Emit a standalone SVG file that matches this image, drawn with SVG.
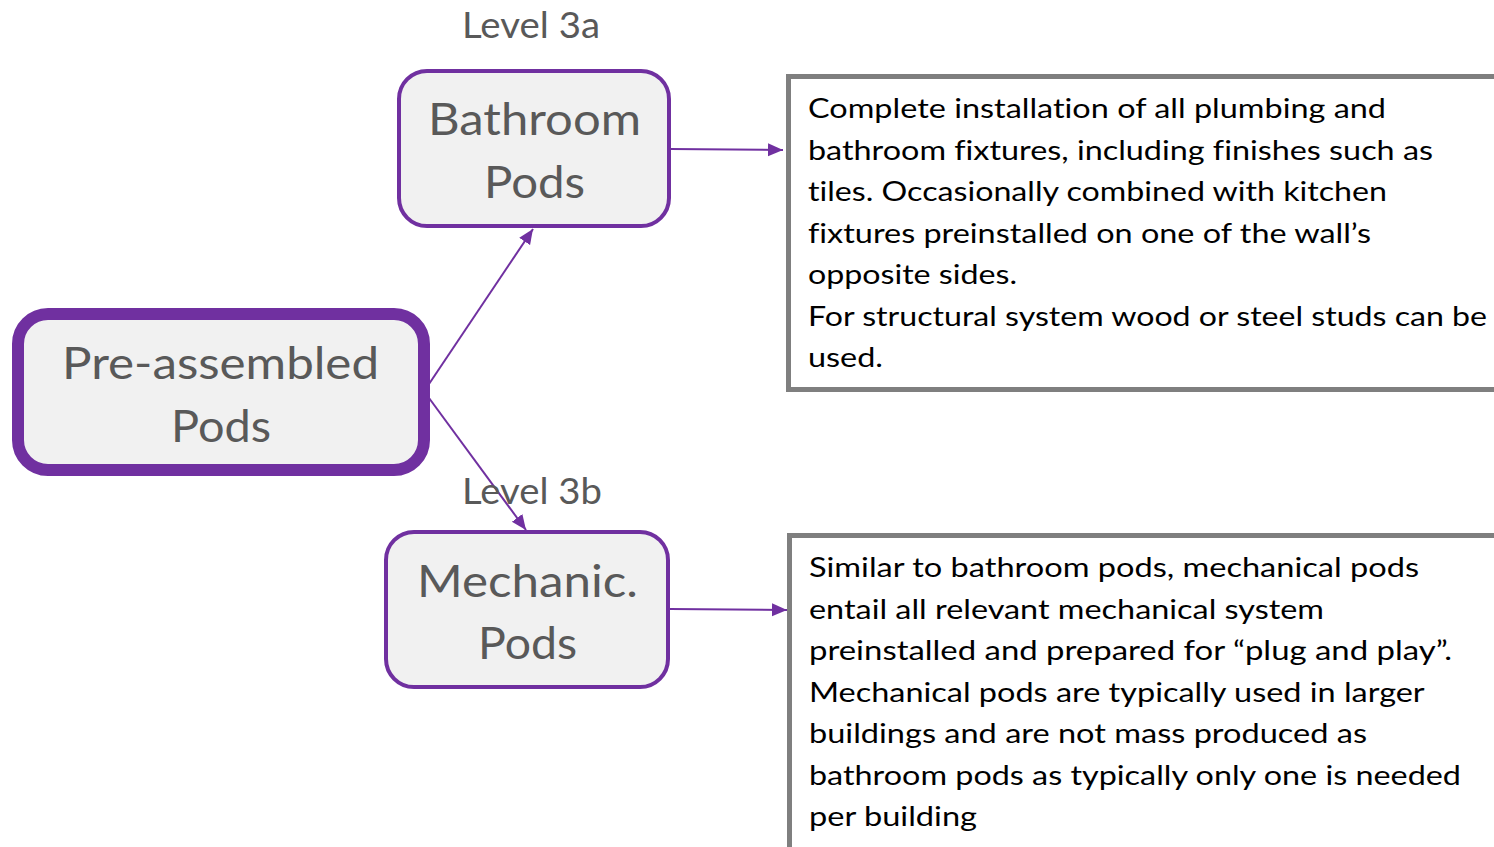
<svg xmlns="http://www.w3.org/2000/svg" width="1494" height="847" viewBox="0 0 1494 847">
  <style>
    text { font-variant-ligatures: none; }
    .node { fill: #f1f1f1; stroke: #7030a0; }
    .title { font-family: Lato, "Open Sans", sans-serif; font-size: 45px; fill: #595959; }
    .level { font-family: Lato, "Open Sans", sans-serif; font-size: 36px; fill: #595959; }
    .desc-box { fill: #ffffff; stroke: #7f7f7f; stroke-width: 5; }
    .desc { font-family: Lato, "Open Sans", sans-serif; font-size: 27px; fill: #000000; }
    .link { stroke: #7030a0; stroke-width: 2; fill: none; marker-end: url(#arrow); }
  </style>
  <defs>
    <marker id="arrow" markerUnits="userSpaceOnUse" markerWidth="16" markerHeight="14" refX="15" refY="6.5" orient="auto">
      <path d="M0,0 L15,6.5 L0,13 z" fill="#7030a0"/>
    </marker>
  </defs>
  <rect width="1494" height="847" fill="#ffffff"/>

  <!-- description panels -->
  <g id="desc-bathroom">
    <rect class="desc-box" x="788.5" y="76.5" width="800" height="313"/>
    <text class="desc">
      <tspan x="808" y="118" textLength="578" lengthAdjust="spacingAndGlyphs">Complete installation of all plumbing and</tspan>
      <tspan x="808" y="159.5" textLength="625" lengthAdjust="spacingAndGlyphs">bathroom fixtures, including finishes such as</tspan>
      <tspan x="808" y="201" textLength="579" lengthAdjust="spacingAndGlyphs">tiles. Occasionally combined with kitchen</tspan>
      <tspan x="808" y="242.5" textLength="563" lengthAdjust="spacingAndGlyphs">fixtures preinstalled on one of the wall’s</tspan>
      <tspan x="808" y="284" textLength="209" lengthAdjust="spacingAndGlyphs">opposite sides.</tspan>
      <tspan x="808" y="325.5" textLength="679" lengthAdjust="spacingAndGlyphs">For structural system wood or steel studs can be</tspan>
      <tspan x="808" y="367" textLength="75" lengthAdjust="spacingAndGlyphs">used.</tspan>
    </text>
  </g>
  <g id="desc-mechanic">
    <rect class="desc-box" x="789.5" y="535.5" width="800" height="400"/>
    <text class="desc">
      <tspan x="809" y="577" textLength="610" lengthAdjust="spacingAndGlyphs">Similar to bathroom pods, mechanical pods</tspan>
      <tspan x="809" y="618.5" textLength="515" lengthAdjust="spacingAndGlyphs">entail all relevant mechanical system</tspan>
      <tspan x="809" y="660" textLength="643" lengthAdjust="spacingAndGlyphs">preinstalled and prepared for “plug and play”.</tspan>
      <tspan x="809" y="701.5" textLength="615" lengthAdjust="spacingAndGlyphs">Mechanical pods are typically used in larger</tspan>
      <tspan x="809" y="743" textLength="558" lengthAdjust="spacingAndGlyphs">buildings and are not mass produced as</tspan>
      <tspan x="809" y="784.5" textLength="652" lengthAdjust="spacingAndGlyphs">bathroom pods as typically only one is needed</tspan>
      <tspan x="809" y="826" textLength="168" lengthAdjust="spacingAndGlyphs">per building</tspan>
    </text>
  </g>

  <!-- connectors -->
  <g id="connectors">
    <line class="link" x1="429" y1="384" x2="533" y2="229"/>
    <line class="link" x1="429" y1="398" x2="526" y2="530"/>
    <line class="link" x1="670" y1="149" x2="783" y2="150"/>
    <line class="link" x1="670" y1="609" x2="787" y2="610"/>
  </g>

  <!-- root node -->
  <g id="node-preassembled">
    <rect class="node" x="18" y="314" width="406" height="156" rx="30" stroke-width="12"/>
    <text class="title">
      <tspan x="62" y="379" textLength="317" lengthAdjust="spacingAndGlyphs">Pre-assembled</tspan>
      <tspan x="171" y="442" textLength="100" lengthAdjust="spacingAndGlyphs">Pods</tspan>
    </text>
  </g>

  <!-- level 3a -->
  <g id="node-bathroom">
    <text class="level" x="462" y="38" textLength="138" lengthAdjust="spacingAndGlyphs">Level 3a</text>
    <rect class="node" x="399" y="71" width="270" height="155" rx="28" stroke-width="4"/>
    <text class="title">
      <tspan x="428" y="135" textLength="213" lengthAdjust="spacingAndGlyphs">Bathroom</tspan>
      <tspan x="484" y="198" textLength="101" lengthAdjust="spacingAndGlyphs">Pods</tspan>
    </text>
  </g>

  <!-- level 3b -->
  <g id="node-mechanic">
    <text class="level" x="462" y="504" textLength="140" lengthAdjust="spacingAndGlyphs">Level 3b</text>
    <rect class="node" x="386" y="532" width="282" height="155" rx="28" stroke-width="4"/>
    <text class="title">
      <tspan x="417" y="597" textLength="221" lengthAdjust="spacingAndGlyphs">Mechanic.</tspan>
      <tspan x="478" y="659" textLength="99" lengthAdjust="spacingAndGlyphs">Pods</tspan>
    </text>
  </g>
</svg>
